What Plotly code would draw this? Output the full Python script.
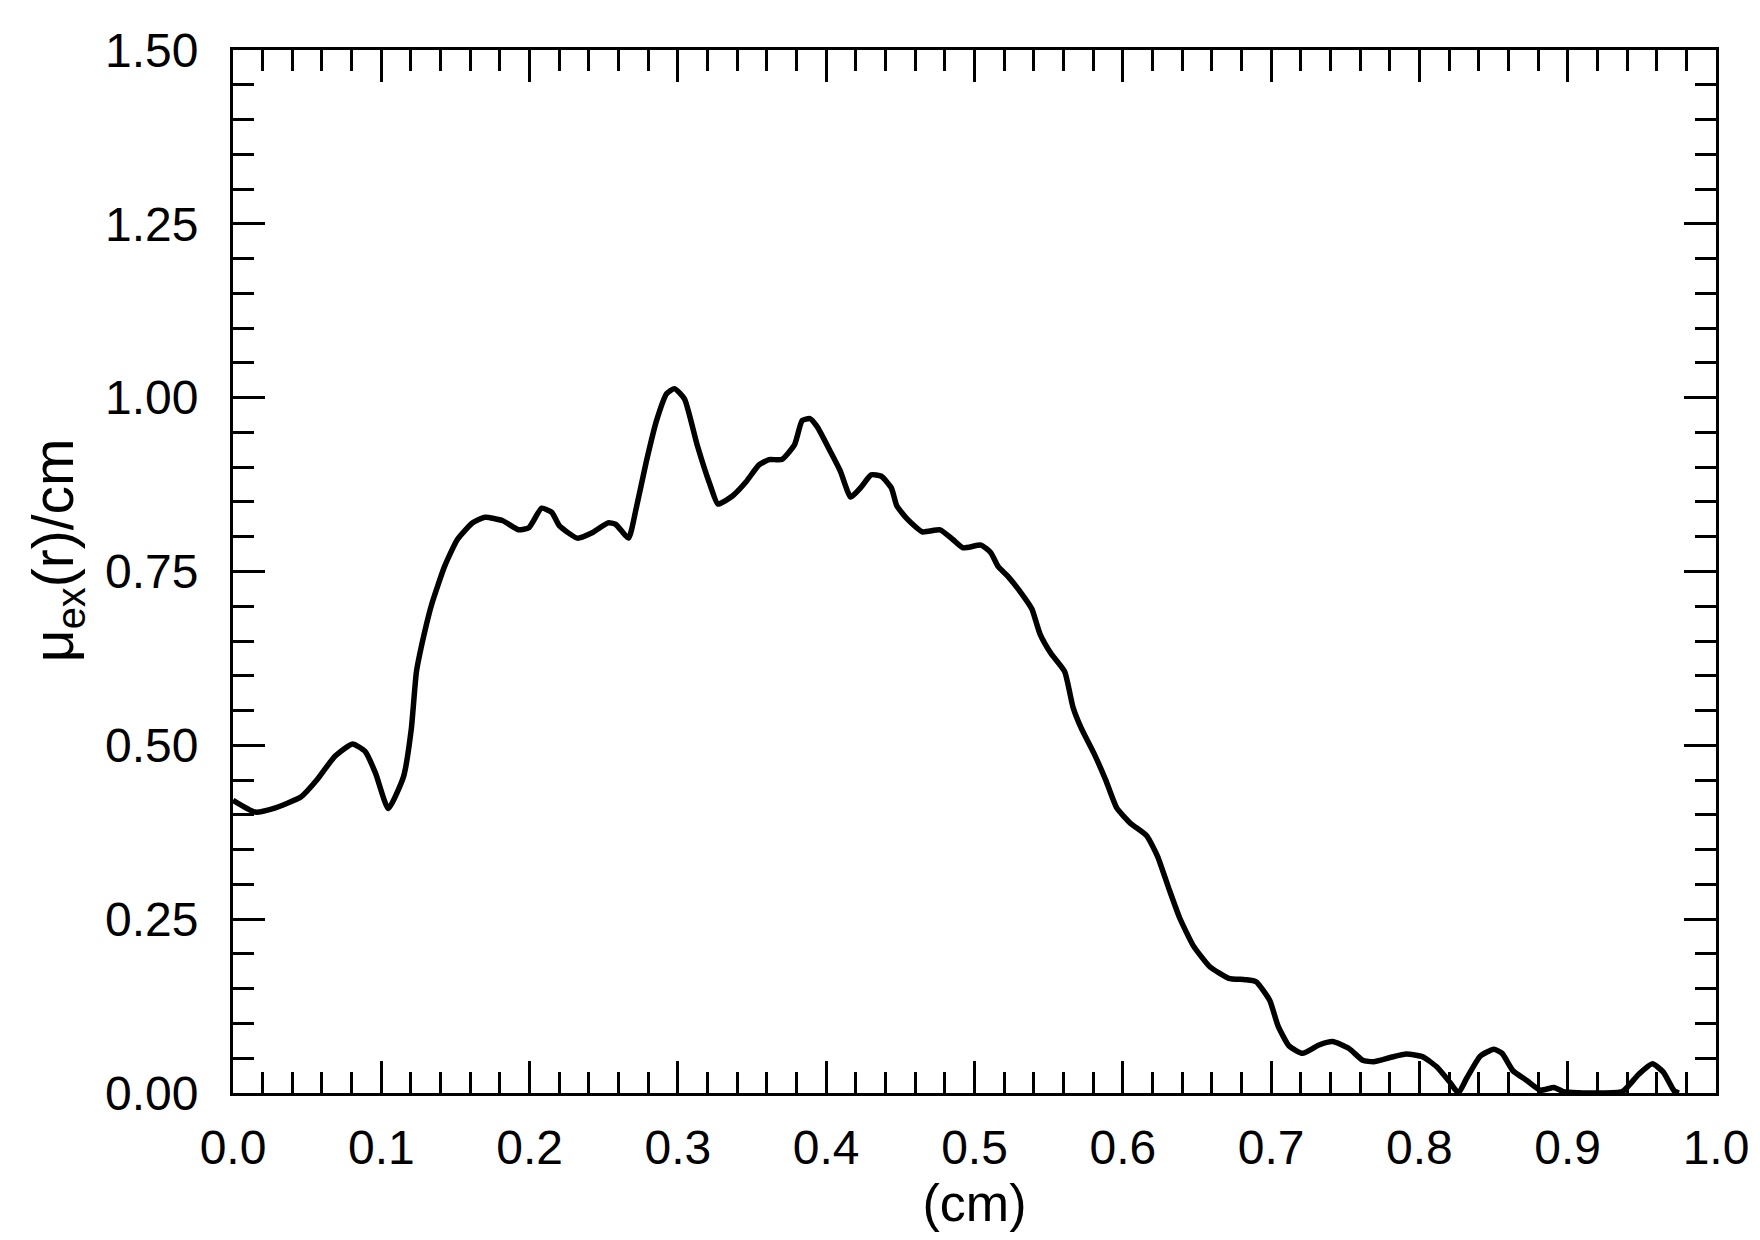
import plotly.graph_objects as go

r_cm = [0.000, 0.015, 0.027, 0.046, 0.0565, 0.0686, 0.0806, 0.0892, 0.0961, 0.1047,
        0.115, 0.1202, 0.1237, 0.1289, 0.134, 0.1426, 0.1513, 0.1616, 0.170, 0.182,
        0.1926, 0.1995, 0.2081, 0.215, 0.220, 0.2322, 0.2425, 0.2529, 0.258, 0.2667,
        0.2718, 0.2787, 0.2856, 0.2925, 0.2977, 0.3045, 0.313, 0.3218, 0.327, 0.337,
        0.346, 0.3545, 0.3614, 0.370, 0.3786, 0.3838, 0.389, 0.394, 0.4027, 0.4096,
        0.4165, 0.4234, 0.4303, 0.4372, 0.444, 0.4475, 0.4544, 0.4648, 0.4768, 0.4854,
        0.4923, 0.5044, 0.511, 0.516, 0.5221, 0.5332, 0.5387, 0.5442, 0.5516, 0.5608,
        0.5664, 0.5719, 0.5811, 0.5885, 0.5959, 0.6051, 0.6161, 0.6235, 0.6309, 0.6383,
        0.6475, 0.6585, 0.6714, 0.6825, 0.6899, 0.6991, 0.7046, 0.712, 0.7212, 0.7323,
        0.7415, 0.7525, 0.7618, 0.7691, 0.7802, 0.7912, 0.8023, 0.8115, 0.8207, 0.8263,
        0.8318, 0.841, 0.8502, 0.8558, 0.8631, 0.8724, 0.8816, 0.8908, 0.897, 0.918,
        0.9369, 0.9479, 0.9571, 0.9645, 0.9718, 0.975]

mu_ex = [0.421, 0.404, 0.409, 0.426, 0.450, 0.484, 0.502, 0.491, 0.460, 0.409,
         0.455, 0.523, 0.606, 0.660, 0.703, 0.757, 0.796, 0.820, 0.828, 0.823,
         0.810, 0.813, 0.841, 0.835, 0.816, 0.798, 0.806, 0.820, 0.818, 0.798,
         0.840, 0.908, 0.967, 1.006, 1.013, 0.998, 0.932, 0.874, 0.847, 0.859,
         0.879, 0.903, 0.911, 0.911, 0.932, 0.967, 0.970, 0.958, 0.923, 0.894,
         0.857, 0.871, 0.889, 0.887, 0.870, 0.845, 0.826, 0.807, 0.810, 0.796,
         0.784, 0.788, 0.777, 0.757, 0.744, 0.714, 0.696, 0.660, 0.632, 0.606,
         0.555, 0.525, 0.486, 0.450, 0.410, 0.388, 0.370, 0.340, 0.295, 0.252,
         0.212, 0.182, 0.165, 0.163, 0.160, 0.133, 0.097, 0.068, 0.057, 0.069,
         0.074, 0.064, 0.047, 0.045, 0.051, 0.056, 0.052, 0.038, 0.015, 0.0,
         0.021, 0.053, 0.063, 0.057, 0.032, 0.018, 0.004, 0.008, 0.002, 0.0,
         0.002, 0.027, 0.042, 0.030, 0.003, 0.0]

y_ticks = [0.0, 0.25, 0.5, 0.75, 1.0, 1.25, 1.5]
y_tick_labels = ["0.00", "0.25", "0.50", "0.75", "1.00", "1.25", "1.50"]
x_ticks = [0.0, 0.1, 0.2, 0.3, 0.4, 0.5, 0.6, 0.7, 0.8, 0.9, 1.0]
x_tick_labels = ["0.0", "0.1", "0.2", "0.3", "0.4", "0.5", "0.6", "0.7", "0.8", "0.9", "1.0"]

FONT = "Liberation Sans, Arial, Helvetica, sans-serif"

fig = go.Figure()
fig.add_trace(go.Scatter(x=r_cm, y=mu_ex, mode="lines",
                         line=dict(color="black", width=5.5, shape="spline", smoothing=0.5),
                         showlegend=False))

axis_common = dict(showline=True, linecolor="black", linewidth=3, mirror="ticks",
                   ticks="inside", tickcolor="black", tickwidth=3,
                   showgrid=False, zeroline=False,
                   tickfont=dict(family=FONT, size=48, color="black"))

fig.update_xaxes(range=[0, 1.0], tickvals=x_ticks, ticktext=x_tick_labels, ticklen=32,
                 minor=dict(dtick=0.02, ticks="inside", ticklen=21, tickwidth=3, tickcolor="black"),
                 ticklabelstandoff=10,
                 title=dict(text="(cm)", font=dict(family=FONT, size=52, color="black"), standoff=5),
                 **axis_common)
fig.update_yaxes(range=[0, 1.5], tickvals=y_ticks, ticktext=y_tick_labels, ticklen=32,
                 minor=dict(dtick=0.05, ticks="inside", ticklen=21, tickwidth=3, tickcolor="black"),
                 ticklabelstandoff=22,
                 **axis_common)

fig.add_annotation(text="μ<sub>ex</sub>(r)/cm", xref="paper", yref="paper",
                   x=-0.119, y=0.52, xanchor="center", yanchor="middle",
                   textangle=-90, showarrow=False,
                   font=dict(family=FONT, size=57, color="black"))

fig.update_layout(width=1760, height=1240, plot_bgcolor="white", paper_bgcolor="white",
                  margin=dict(l=225, r=52, t=42, b=155, autoexpand=False))

fig.write_html("out.html")
